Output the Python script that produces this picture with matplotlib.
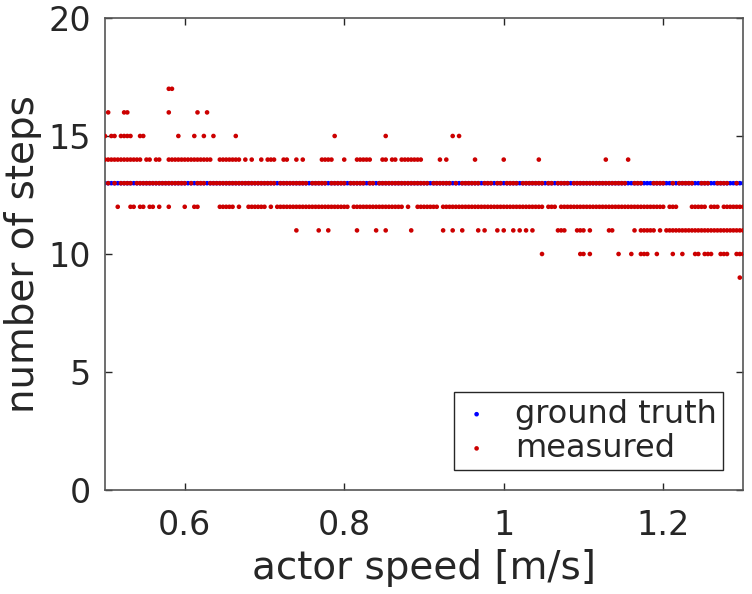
"""
Number of detected steps vs. actor speed: ground truth vs. measured.
MATLAB-style scatter of dots on integer step counts.
"""

import matplotlib
matplotlib.use("Agg")
import matplotlib.pyplot as plt

plt.rcParams.update({
    "font.family": "DejaVu Sans",
    "font.size": 24,
    "text.color": "#262626",
    "axes.labelcolor": "#262626",
    "xtick.color": "#262626",
    "ytick.color": "#262626",
})

# actor speeds [m/s] of all runs (ground truth is always 13 steps)
speed_gt = [
    0.500, 0.504, 0.508, 0.512, 0.516, 0.520, 0.524, 0.528, 0.532, 0.536,
    0.540, 0.544, 0.548, 0.552, 0.556, 0.560, 0.564, 0.568, 0.572, 0.576,
    0.580, 0.584, 0.588, 0.592, 0.596, 0.600, 0.604, 0.608, 0.612, 0.616,
    0.620, 0.624, 0.628, 0.632, 0.636, 0.640, 0.644, 0.648, 0.652, 0.656,
    0.660, 0.664, 0.668, 0.672, 0.676, 0.680, 0.684, 0.688, 0.692, 0.696,
    0.700, 0.704, 0.708, 0.712, 0.716, 0.720, 0.724, 0.728, 0.732, 0.736,
    0.740, 0.744, 0.748, 0.752, 0.756, 0.760, 0.764, 0.768, 0.772, 0.776,
    0.780, 0.784, 0.788, 0.792, 0.796, 0.800, 0.804, 0.808, 0.812, 0.816,
    0.820, 0.824, 0.828, 0.832, 0.836, 0.840, 0.844, 0.848, 0.852, 0.856,
    0.860, 0.864, 0.868, 0.872, 0.876, 0.880, 0.884, 0.888, 0.892, 0.896,
    0.900, 0.904, 0.908, 0.912, 0.916, 0.920, 0.924, 0.928, 0.932, 0.936,
    0.940, 0.944, 0.948, 0.952, 0.956, 0.960, 0.964, 0.968, 0.972, 0.976,
    0.980, 0.984, 0.988, 0.992, 0.996, 1.000, 1.004, 1.008, 1.012, 1.016,
    1.020, 1.024, 1.028, 1.032, 1.036, 1.040, 1.044, 1.048, 1.052, 1.056,
    1.060, 1.064, 1.068, 1.072, 1.076, 1.080, 1.084, 1.088, 1.092, 1.096,
    1.100, 1.104, 1.108, 1.112, 1.116, 1.120, 1.124, 1.128, 1.132, 1.136,
    1.140, 1.144, 1.148, 1.152, 1.156, 1.160, 1.164, 1.168, 1.172, 1.176,
    1.180, 1.184, 1.188, 1.192, 1.196, 1.200, 1.204, 1.208, 1.212, 1.216,
    1.220, 1.224, 1.228, 1.232, 1.236, 1.240, 1.244, 1.248, 1.252, 1.256,
    1.260, 1.264, 1.268, 1.272, 1.276, 1.280, 1.284, 1.288, 1.292, 1.296,
    1.300,
]
steps_gt = [13] * len(speed_gt)

# measured step counts: speeds at which each count was measured
meas_17 = [0.580, 0.584]
meas_16 = [0.504, 0.524, 0.528, 0.580, 0.616, 0.628]
meas_15 = [0.500, 0.508, 0.512, 0.520, 0.524, 0.528, 0.532, 0.544, 0.548,
           0.592, 0.612, 0.624, 0.636, 0.664, 0.788, 0.852, 0.936, 0.944]
meas_14 = [0.500, 0.504, 0.508, 0.512, 0.516, 0.520, 0.524, 0.528, 0.532,
           0.536, 0.540, 0.544, 0.552, 0.556, 0.564, 0.568,
           0.580, 0.584, 0.588, 0.592, 0.596, 0.600, 0.604, 0.608, 0.612,
           0.616, 0.620, 0.624, 0.628, 0.632,
           0.644, 0.648, 0.652, 0.656, 0.660, 0.664, 0.668,
           0.676, 0.684, 0.696, 0.704, 0.708, 0.712, 0.724, 0.728,
           0.740, 0.748, 0.772, 0.776, 0.780, 0.784, 0.800,
           0.816, 0.820, 0.824, 0.828, 0.832, 0.848, 0.852, 0.860, 0.864,
           0.872, 0.876, 0.880, 0.884, 0.888, 0.892, 0.896,
           0.920, 0.928, 0.964, 1.000, 1.044, 1.128, 1.156]
meas_13 = [
    0.504, 0.512, 0.520, 0.524, 0.528, 0.532,
    0.540, 0.544, 0.548, 0.552, 0.556, 0.560, 0.564, 0.568, 0.572, 0.576,
    0.580, 0.584, 0.588, 0.592, 0.596, 0.600, 0.608, 0.616,
    0.620, 0.624, 0.632, 0.636, 0.640, 0.644, 0.648, 0.652, 0.656,
    0.660, 0.664, 0.668, 0.672, 0.676, 0.680, 0.684, 0.688, 0.692, 0.696,
    0.700, 0.704, 0.708, 0.712, 0.720, 0.724, 0.728, 0.732, 0.736,
    0.740, 0.744, 0.748, 0.752, 0.760, 0.764, 0.768, 0.772, 0.776,
    0.784, 0.788, 0.792, 0.796, 0.800, 0.808, 0.812, 0.816,
    0.820, 0.824, 0.832, 0.836, 0.844, 0.848, 0.852, 0.856,
    0.860, 0.864, 0.868, 0.872, 0.876, 0.880, 0.884, 0.888, 0.892, 0.896,
    0.900, 0.904, 0.912, 0.916, 0.920, 0.924, 0.928, 0.932,
    0.940, 0.948, 0.952, 0.956, 0.960, 0.964, 0.968, 0.976,
    0.980, 0.984, 0.992, 0.996, 1.004, 1.008, 1.012, 1.016,
    1.024, 1.028, 1.032, 1.036, 1.040, 1.044, 1.048, 1.056,
    1.060, 1.068, 1.072, 1.076, 1.080, 1.088, 1.092, 1.096,
    1.100, 1.104, 1.108, 1.112, 1.116, 1.120, 1.124, 1.128, 1.132, 1.136,
    1.140, 1.144, 1.148, 1.152, 1.164, 1.168, 1.172,
    1.188, 1.192, 1.196, 1.200, 1.212,
    1.220, 1.224, 1.228, 1.232, 1.236, 1.248, 1.252, 1.256,
    1.268, 1.272, 1.276, 1.280, 1.292,
]
meas_12 = [
    0.516, 0.532, 0.536, 0.544, 0.548, 0.556, 0.560, 0.568, 0.580, 0.600,
    0.612, 0.616, 0.644, 0.648, 0.652, 0.656, 0.660, 0.668,
    0.680, 0.684, 0.688, 0.692, 0.696, 0.700, 0.708,
    0.716, 0.720, 0.724, 0.728, 0.732, 0.736, 0.740, 0.744, 0.748, 0.752,
    0.756, 0.760, 0.764, 0.768, 0.772, 0.776, 0.780, 0.784, 0.788, 0.792,
    0.796, 0.800, 0.804,
    0.812, 0.816, 0.820, 0.824, 0.828, 0.832, 0.836, 0.840, 0.844, 0.848,
    0.852, 0.856, 0.860, 0.864, 0.868, 0.872,
    0.880, 0.892, 0.896, 0.900, 0.904, 0.908, 0.912, 0.916,
    0.924, 0.928, 0.932, 0.936, 0.940, 0.944, 0.948, 0.952, 0.956, 0.960,
    0.964, 0.968, 0.972, 0.976, 0.980, 0.984, 0.988, 0.992, 0.996, 1.000,
    1.004, 1.008, 1.012, 1.016, 1.020, 1.024, 1.028, 1.032, 1.036, 1.040,
    1.044, 1.048, 1.056, 1.060, 1.064,
    1.072, 1.076, 1.080, 1.084, 1.088, 1.092, 1.096, 1.100, 1.104, 1.108,
    1.112, 1.116, 1.120, 1.124, 1.128, 1.132, 1.136, 1.140, 1.144, 1.148,
    1.152, 1.156, 1.160, 1.164, 1.168, 1.172, 1.176, 1.180, 1.184, 1.188,
    1.192, 1.196, 1.200, 1.208, 1.212, 1.216,
    1.236, 1.240, 1.244, 1.248, 1.252, 1.260, 1.264, 1.268,
    1.276, 1.280, 1.284, 1.288, 1.292, 1.296, 1.300,
]
meas_11 = [
    0.740, 0.768, 0.780, 0.816, 0.840, 0.852, 0.884,
    0.924, 0.936, 0.948, 0.968, 0.976, 0.992, 1.000, 1.012, 1.020, 1.028,
    1.036, 1.068, 1.072, 1.076, 1.092, 1.096, 1.100, 1.108, 1.132, 1.136,
    1.164, 1.172, 1.176, 1.180, 1.184, 1.188, 1.196,
    1.204, 1.208, 1.212, 1.216, 1.220, 1.224, 1.228, 1.232, 1.236, 1.240,
    1.244, 1.248, 1.252, 1.256, 1.260, 1.264, 1.268, 1.272, 1.276, 1.280,
    1.284, 1.288, 1.292, 1.296, 1.300,
]
meas_10 = [1.048, 1.096, 1.100, 1.108, 1.144, 1.160, 1.172, 1.176, 1.180,
           1.192, 1.212, 1.224, 1.240, 1.244, 1.252, 1.256, 1.260, 1.272,
           1.276, 1.280, 1.292, 1.296, 1.300]
meas_9 = [1.296]

measured = {17: meas_17, 16: meas_16, 15: meas_15, 14: meas_14, 13: meas_13,
            12: meas_12, 11: meas_11, 10: meas_10, 9: meas_9}

speed_meas = []
steps_meas = []
for n, xs in measured.items():
    speed_meas += xs
    steps_meas += [n] * len(xs)

fig = plt.figure(figsize=(7.52, 5.94), dpi=100)
ax = fig.add_axes([0.1396, 0.1751, 0.8484, 0.7946])

ax.scatter(speed_gt, steps_gt, s=11, color="#0000ff", edgecolors="none",
           label="ground truth", zorder=2)
ax.scatter(speed_meas, steps_meas, s=11, color="#cc0000", edgecolors="none",
           label="measured", zorder=3)

ax.set_xlim(0.5, 1.3)
ax.set_ylim(0, 20)
ax.set_xticks([0.6, 0.8, 1.0, 1.2])
ax.set_xticklabels(["0.6", "0.8", "1", "1.2"])
ax.set_yticks([0, 5, 10, 15, 20])
ax.tick_params(direction="in", top=True, right=True, length=5,
               width=1.0, labelsize=24, color="#262626")
ax.tick_params(axis="x", pad=14)
ax.tick_params(axis="y", pad=10)
for sp in ax.spines.values():
    sp.set_color("#555555")
    sp.set_linewidth(1.2)

ax.set_xlabel("actor speed [m/s]", fontsize=28, labelpad=5)
ax.set_ylabel("number of steps", fontsize=28, labelpad=5)

leg = ax.legend(loc="lower right", bbox_to_anchor=(0.969, 0.042),
                fontsize=23, frameon=True, fancybox=False, framealpha=1,
                edgecolor="#262626", handlelength=1.0, handletextpad=0.7,
                borderpad=0.2, labelspacing=0.1, borderaxespad=0.0)
leg.get_frame().set_linewidth(1.0)

fig.savefig("out.png", dpi=100)
